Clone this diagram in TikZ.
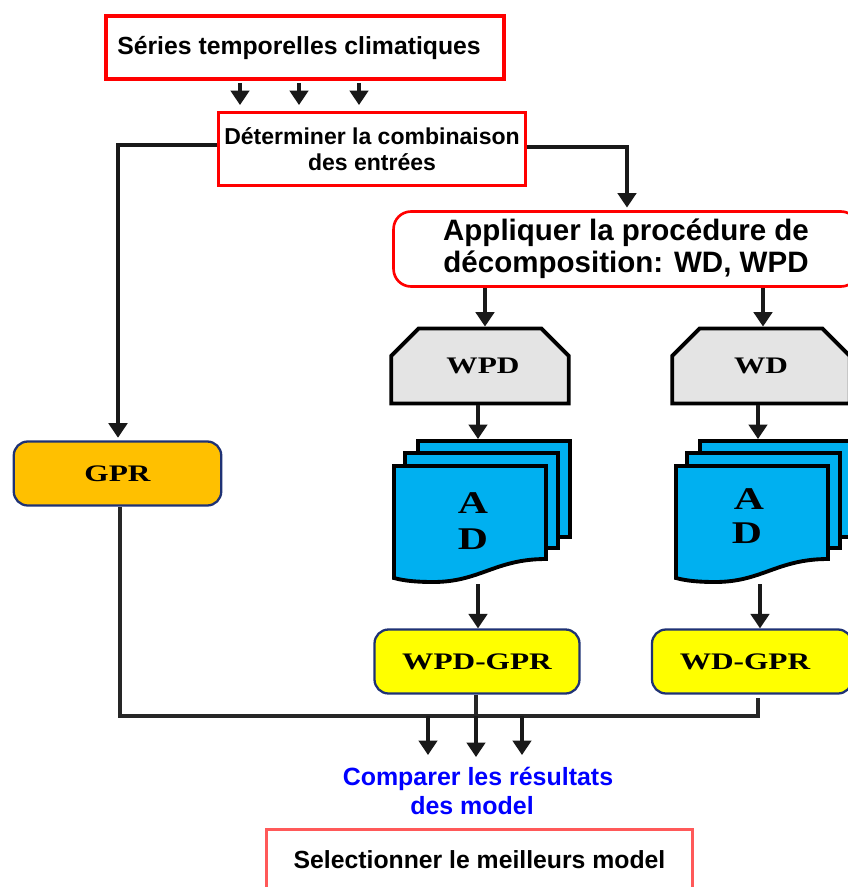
\documentclass[tikz,border=0pt]{standalone}
\usepackage{fontspec}
\setmainfont{Liberation Sans}
\newfontfamily\modelfont[FakeStretch=1.32]{Liberation Serif}
\usetikzlibrary{shapes,shapes.misc,arrows,arrows.meta,positioning,calc}
\definecolor{sheetblue}{HTML}{00B0F0}
\definecolor{gprorange}{HTML}{FFC000}
\definecolor{hybridyellow}{HTML}{FFFF00}
\definecolor{codergray}{HTML}{E4E4E4}
\definecolor{modelnavy}{HTML}{1F3275}

\tikzset{
  flow/.style={-{Triangle[length=2.9mm,width=3.7mm]},line width=1.9pt,black!90},
  wire/.style={line width=1.9pt,black!85},
  redbox/.style={draw=red,fill=white,line width=1.5pt,align=center},
  modelbox/.style={draw=modelnavy,rounded corners=2.8mm,line width=1.3pt,font=\modelfont\bfseries\fontsize{13.5}{15}\selectfont},
  coderbox/.style={draw,fill=codergray,line width=2.2pt,chamfered rectangle,chamfered rectangle xsep=3.4mm,chamfered rectangle ysep=2.7mm,chamfered rectangle corners={north west,north east},minimum width=3.55cm,minimum height=1.5cm,font=\modelfont\bfseries\fontsize{13.5}{15}\selectfont},
  sheet/.style={draw,fill=sheetblue,line width=2.2pt},
  lettertext/.style={font=\modelfont\bfseries\fontsize{18}{20}\selectfont}
}

\begin{document}
\begin{tikzpicture}[x=0.02cm,y=-0.02cm]
      \useasboundingbox (0,0) rectangle (848,887);
      \clip (0,0) rectangle (848,887);

      \coordinate (s) at (305,47.5);
      \coordinate (d) at (372,149);
      \coordinate (p) at (626,249);
      \coordinate (w) at (480,366);
      \coordinate (v) at (761,366);
      \coordinate (g) at (117.5,473.5);
      \coordinate (m) at (477,661.5);
      \coordinate (n) at (752,661.5);

      % boxes
      \node[redbox,line width=2.4pt,minimum width=7.95cm,minimum height=1.26cm,font=\bfseries\fontsize{14.1}{16}\selectfont] (sn) at (s) {Séries temporelles climatiques\hspace*{6.8pt}};
      \node[redbox,minimum width=6.12cm,minimum height=1.46cm,font=\bfseries\fontsize{13.1}{14.6}\selectfont] (dn) at (d) {Déterminer la combinaison\\des entrées};
      \node[redbox,rounded corners=3.5mm,minimum width=9.3cm,minimum height=1.5cm,font=\bfseries\fontsize{16.8}{18.2}\selectfont] (pn) at (p) {Appliquer la procédure de\\décomposition: WD, WPD};

      \node[coderbox] (wn) at (w) {\hspace*{3.4pt}WPD};
      \node[coderbox] (vn) at (v) {WD};

      \node[modelbox,fill=gprorange,minimum width=4.15cm,minimum height=1.28cm] (gn) at (g) {GPR};
      \node[modelbox,fill=hybridyellow,minimum width=4.1cm,minimum height=1.28cm] (mn) at (m) {WPD-GPR};
      \node[modelbox,fill=hybridyellow,minimum width=4.0cm,minimum height=1.28cm] (nn) at (n) {WD-GPR\hspace*{8pt}};

      % sheets
      \foreach \dx in {0,282}{
        \begin{scope}[xshift=\dx*0.02cm]
          \draw[sheet] (418,441) rectangle (570,537);
          \draw[sheet] (405,453) rectangle (558,548);
          \draw[sheet] (394,466) -- (546,466) -- (546,559) .. controls (495,559) and (480,582) .. (433,582) .. controls (418,582) and (405,581) .. (394,578) -- cycle;
        \end{scope}
      }
      \node[lettertext] (wa) at (473,503) {A};
      \node[lettertext] (wc) at (473,539) {D};
      \node[lettertext] (va) at (749,499) {A};
      \node[lettertext] (vc) at (747,533) {D};

      \node[font=\bfseries\fontsize{14.2}{16.4}\selectfont,text=blue,align=center] (cn) at (478,791) {Comparer les résultats\\des model\hspace*{6.8pt}};
      \node[draw=red!65,fill=white,line width=1.2pt,minimum width=8.52cm,minimum height=1.22cm,font=\bfseries\fontsize{14.1}{15}\selectfont] (bn) at (479.5,860) {Selectionner le meilleurs model};

      % free ends of the arrows
      \coordinate (wt) at (478,439);
      \coordinate (vt) at (758,439);
      \coordinate (wb) at (478,584);
      \coordinate (vb) at (760,584);
      \coordinate (j) at (120,716);
      \coordinate (k) at (758,698);

      % arrows
      \foreach \x in {240,299,359}{
        \draw[flow,shorten <=1pt,shorten >=3.5pt] (\x,0 |- sn.south) -- (\x,0 |- dn.north);
      }
      \draw[flow,shorten >=1.5pt] (dn.west |- 0,145) -| (118,0 |- gn.north);
      \draw[flow,shorten >=1.5pt] (dn.east |- 0,147) -| (627,0 |- pn.north);
      \draw[flow] (485,0 |- pn.south) -- (485,0 |- wn.north);
      \draw[flow] (763,0 |- pn.south) -- (763,0 |- vn.north);
      \draw[flow] (wn.south -| wt) -- (wt);
      \draw[flow] (vn.south -| vt) -- (vt);
      \draw[flow] (wb) -- (wb |- mn.north);
      \draw[flow] (vb) -- (vb |- nn.north);

      \draw[wire] (120,0 |- gn.south) -- (j) -- (k |- j) -- (k);
      \draw[wire] (476,0 |- mn.south) -- (476,0 |- j);
      \foreach \x/\y in {428/755,476/757,522/755}{
        \draw[flow] (\x,0 |- j) -- (\x,\y);
      }
    \end{tikzpicture}
\end{document}
